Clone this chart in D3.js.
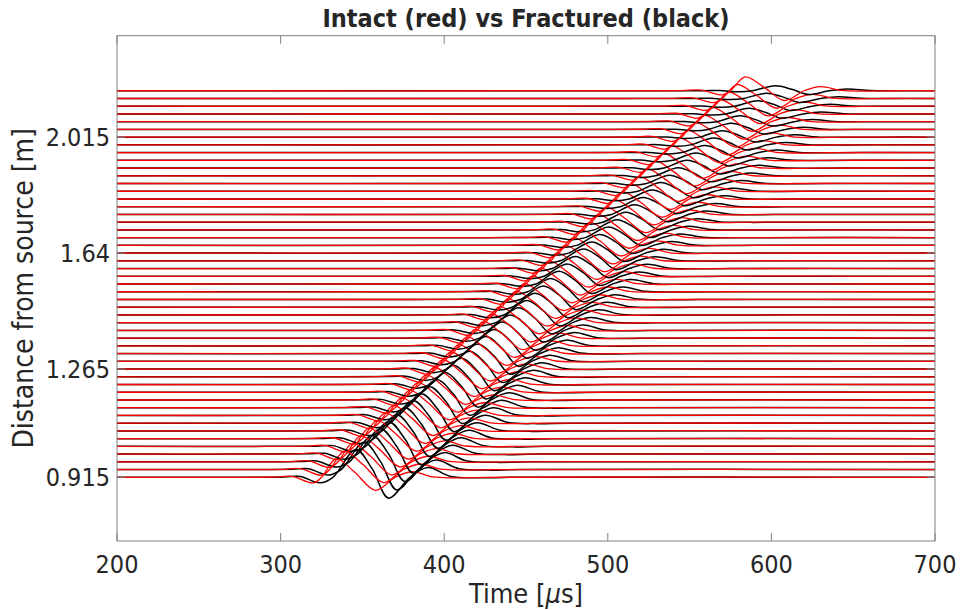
<!DOCTYPE html>
<html><head><meta charset="utf-8">
<script src="https://cdn.jsdelivr.net/npm/d3@7"></script>
<style>
body{margin:0;background:#fff;}
text{font-family:"Liberation Sans Narrow","DejaVu Sans Condensed","Liberation Sans",sans-serif;fill:#262626;}
</style></head>
<body><svg id="c" width="960" height="610"></svg>
<script>
// distances of receivers [m]
const distances = [0.915,0.94,0.965,0.99,1.015,1.04,1.065,1.09,1.115,1.14,1.165,1.19,1.215,1.24,1.265,1.29,1.315,1.34,1.365,1.39,1.415,1.44,1.465,1.49,1.515,1.54,1.565,1.59,1.615,1.64,1.665,1.69,1.715,1.74,1.765,1.79,1.815,1.84,1.865,1.89,1.915,1.94,1.965,1.99,2.015,2.04,2.065,2.09,2.115,2.14,2.165];
// arrival (zero crossing of main rising flank) [µs]
const redArrival = [325,330,335,340,345,350,355,360,365,370,375,380,385,390,395,400,405,410,415,420,425,430,435,440,445,450,455,460,465,470,475,480,485,490,495,500,505,510,515,520,525,530,535,540,545,550,555,560,565,570,575];
const blackArrival = [332,337,342,347,352,357,362,367,372,377,381.5,386.5,391.5,396.5,401.5,406.5,411.5,416.5,421.5,426.5,431.5,436.5,441.5,446.5,451,456,461,466,471,476,481,486.3,491.6,497,502.3,507.6,513,518.3,523.6,529,534.4,539.8,545.2,550.6,556,561.4,566.8,572.2,577.6,583,588.4];
// peak amplitudes [m]
const redAmp = [0.06,0.06,0.06,0.059,0.059,0.058,0.058,0.057,0.057,0.056,0.056,0.056,0.055,0.055,0.055,0.054,0.054,0.053,0.053,0.053,0.052,0.052,0.052,0.051,0.051,0.051,0.05,0.05,0.05,0.05,0.049,0.049,0.049,0.048,0.048,0.048,0.048,0.047,0.047,0.047,0.047,0.046,0.046,0.046,0.046,0.045,0.045,0.045,0.045,0.045,0.045];
const blackAmp = [0.09,0.088,0.085,0.082,0.08,0.077,0.075,0.073,0.07,0.068,0.066,0.064,0.062,0.06,0.058,0.056,0.055,0.053,0.052,0.05,0.048,0.047,0.045,0.044,0.043,0.041,0.04,0.039,0.038,0.036,0.035,0.034,0.033,0.032,0.031,0.03,0.029,0.028,0.027,0.026,0.025,0.024,0.023,0.022,0.021,0.02,0.019,0.018,0.018,0.017,0.016];
// wavelet shapes (time relative to arrival [µs], normalised amplitude)
const redShapeT = [-60,-30,-18,-5,0,9,20,33,45,55,68,80,100];
const redShapeA = [0,0.01,0.05,-0.3,0,1,0.3,-0.7,0,0.3,0.02,-0.03,0];
const blackShapeT = [-60,-30,-20,-8,0,14,24,34,47,58,72,90,110];
const blackShapeA = [0,0.01,0.03,-0.2,0,1,0.3,-0.75,0,0.35,0.03,-0.02,0];
const xTicks = [200,300,400,500,600,700];
const yTicks = [0.915,1.265,1.64,2.015];
const yTickLabels = ["0.915","1.265","1.64","2.015"];

const svg = d3.select("#c");
const L=117,R=935,T=35.7,B=541;
const x = d3.scaleLinear().domain([200,700]).range([L,R]);
const y = d3.scaleLinear().domain([0.709,2.343]).range([B,T]);

svg.append("clipPath").attr("id","cp").append("rect").attr("x",L).attr("y",T).attr("width",R-L).attr("height",B-T);
const g = svg.append("g").attr("clip-path","url(#cp)");
const line = d3.line().x(d=>x(d[0])).y(d=>y(d[1])).curve(d3.curveCatmullRom.alpha(0.5));

function trace(d, t0, amp, sT, sA){
  const pts=[[200,d]];
  for(let i=0;i<sT.length;i++) pts.push([t0+sT[i], d+amp*sA[i]]);
  pts.push([700,d]);
  return pts;
}
distances.forEach((d,k)=>{
  g.append("path").attr("d",line(trace(d,blackArrival[k],blackAmp[k],blackShapeT,blackShapeA)))
   .attr("fill","none").attr("stroke","#000").attr("stroke-width",1.5);
  g.append("path").attr("d",line(trace(d,redArrival[k],redAmp[k],redShapeT,redShapeA)))
   .attr("fill","none").attr("stroke","#ff0000").attr("stroke-width",1.3);
});

// box
const axc="#808080";
svg.append("rect").attr("x",L).attr("y",T).attr("width",R-L).attr("height",B-T).attr("fill","none").attr("stroke",axc).attr("stroke-width",1);
xTicks.forEach(v=>{
  svg.append("line").attr("x1",x(v)).attr("x2",x(v)).attr("y1",B).attr("y2",B-8).attr("stroke",axc);
  svg.append("line").attr("x1",x(v)).attr("x2",x(v)).attr("y1",T).attr("y2",T+8).attr("stroke",axc);
  svg.append("text").attr("x",x(v)).attr("y",B+32).attr("text-anchor","middle").attr("font-size",25).text(v);
});
yTicks.forEach((v,i)=>{
  svg.append("line").attr("x1",L).attr("x2",L+8).attr("y1",y(v)).attr("y2",y(v)).attr("stroke",axc);
  svg.append("line").attr("x1",R).attr("x2",R-8).attr("y1",y(v)).attr("y2",y(v)).attr("stroke",axc);
  svg.append("text").attr("x",L-7).attr("y",y(v)).attr("dy","0.36em").attr("text-anchor","end").attr("font-size",25).text(yTickLabels[i]);
});
const xl = svg.append("text").attr("x",(L+R)/2).attr("y",603).attr("text-anchor","middle").attr("font-size",27);
xl.append("tspan").text("Time [");
xl.append("tspan").attr("font-style","italic").text("μ");
xl.append("tspan").text("s]");
svg.append("text").attr("transform",`translate(33,${(T+B)/2}) rotate(-90)`).attr("text-anchor","middle").attr("font-size",28).text("Distance from source [m]");
svg.append("text").attr("x",(L+R)/2).attr("y",27).attr("text-anchor","middle").attr("font-size",25).attr("font-weight","bold").attr("fill","#000").text("Intact (red) vs Fractured (black)");
</script></body></html>
